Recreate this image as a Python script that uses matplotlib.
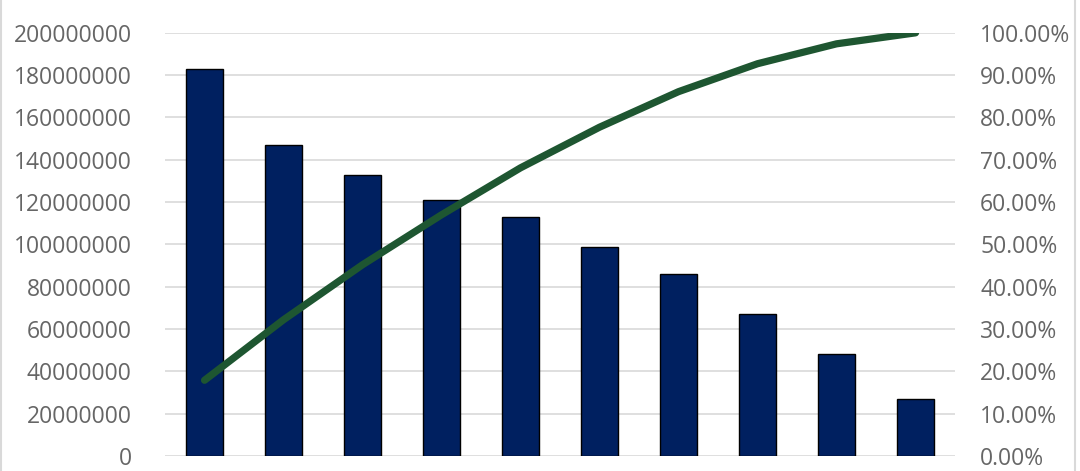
import matplotlib.pyplot as plt
import numpy as np
from matplotlib.ticker import FuncFormatter

plt.rcParams["font.family"] = ["Open Sans", "DejaVu Sans"]

# values
amounts = [183000000, 147000000, 133000000, 121000000, 113000000,
           99000000, 86000000, 67000000, 48000000, 27000000]
cum_share = [17.9, 32.2, 45.2, 57.0, 68.1, 77.7, 86.1, 92.7, 97.4, 100.0]

left_ticks = np.arange(0, 200000001, 20000000)
right_ticks = np.arange(0, 101, 10)

fig = plt.figure(figsize=(10.8, 4.71), dpi=100)
ax = fig.add_axes([0.1528, 0.0318, 0.7315, 0.8985])
x = np.arange(len(amounts))

ax.bar(x, amounts, width=0.46, color="#002060", edgecolor="#000000", linewidth=1, zorder=2)
ax.set_xlim(-0.5, len(amounts) - 0.5)
ax.set_ylim(0, 200000000)
ax.set_yticks(left_ticks)
ax.yaxis.set_major_formatter(FuncFormatter(lambda v, p: f"{int(v)}"))
ax.grid(axis="y", color="#d9d9d9", linewidth=1.2, zorder=0)
ax.set_xticks([])
for s in ax.spines.values():
    s.set_visible(False)
ax.tick_params(axis="y", length=0, labelsize=16.5, labelcolor="#666666", pad=24)

ax2 = ax.twinx()
ax2.plot(x, cum_share, color="#1e5631", linewidth=5.2, solid_capstyle="round",
         solid_joinstyle="round", zorder=3)
ax2.set_ylim(0, 100)
ax2.set_yticks(right_ticks)
ax2.yaxis.set_major_formatter(FuncFormatter(lambda v, p: f"{v:.2f}%"))
for s in ax2.spines.values():
    s.set_visible(False)
ax2.tick_params(axis="y", length=0, labelsize=16.5, labelcolor="#666666", pad=18)

# thin frame around the chart area
fig.patches.append(plt.Rectangle((0.001, -0.01), 0.994, 1.02, transform=fig.transFigure,
                                 fill=False, edgecolor="#d9d9d9", linewidth=1.5))

fig.savefig("out.png", dpi=100)
